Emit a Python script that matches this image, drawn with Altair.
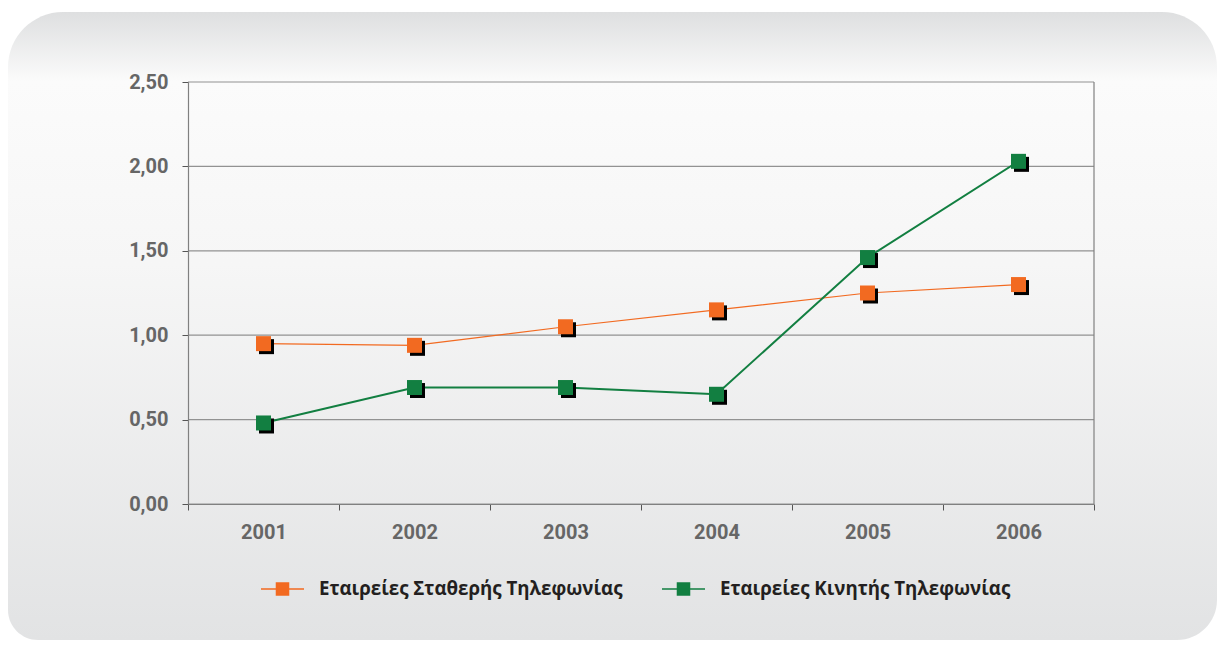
import altair as alt
import pandas as pd

years = ["2001", "2002", "2003", "2004", "2005", "2006"]
fixed_values = [0.95, 0.94, 1.05, 1.15, 1.25, 1.30]
mobile_values = [0.48, 0.69, 0.69, 0.65, 1.46, 2.03]
series_names = ["Εταιρείες Σταθερής Τηλεφωνίας", "Εταιρείες Κινητής Τηλεφωνίας"]
series_colors = ["#f26a21", "#127f41"]
y_ticks = [0, 0.5, 1.0, 1.5, 2.0, 2.5]

rows = []
for name, vals in zip(series_names, [fixed_values, mobile_values]):
    for yr, v in zip(years, vals):
        rows.append({"year": yr, "value": v, "series": name})
df = pd.DataFrame(rows)

W, H = 906, 422
PAD_L, PAD_T, PAD_R, PAD_B = 180, 74, 1217 - 188 - W, 632 - 74 - H

x_enc = alt.X(
    "year:N",
    bandPosition=0.5,
    scale=alt.Scale(type="band", paddingInner=0, paddingOuter=0),
    axis=alt.Axis(
        title=None, labelAngle=0, tickBand="extent", grid=False,
        labelFont="Roboto", labelFontSize=20, labelFontWeight="bold",
        labelColor="#666666", labelPadding=12, tickSize=6,
        tickColor="#555555", domainColor="#808080", domainWidth=1.2,
        zindex=1,
    ),
)
y_axis = alt.Axis(
    title=None, values=y_ticks,
    labelExpr="replace(format(datum.value, '.2f'), '.', ',')",
    labelFont="Roboto", labelFontSize=20, labelFontWeight="bold",
    labelColor="#666666", labelPadding=14, tickSize=6,
    tickColor="#555555", domainColor="#808080", domainWidth=1.2,
    grid=False, zindex=1,
)
y_scale = alt.Scale(domain=[0, 2.5], nice=False)
y_enc = alt.Y("value:Q", scale=y_scale, axis=y_axis)

color_enc = alt.Color(
    "series:N",
    scale=alt.Scale(domain=series_names, range=series_colors),
    legend=alt.Legend(
        title=None, orient="none", direction="horizontal",
        legendX=72, legendY=484, padding=0, zindex=1,
        symbolType="M-1,0L1,0M-0.28,-0.28L0.28,-0.28L0.28,0.28L-0.28,0.28Z",
        symbolSize=1849, symbolStrokeWidth=1.5, symbolOpacity=1,
        labelFont="Open Sans", labelFontSize=18.7, labelFontWeight="bold",
        labelColor="#231f20", labelOffset=14, columnPadding=36,
        labelLimit=500,
    ),
)

bg = alt.Chart(pd.DataFrame({"k": [0]})).mark_rect(
    fill=alt.Gradient(
        gradient="linear", x1=0, y1=0, x2=0, y2=1,
        stops=[
            alt.GradientStop(color="#dedfe0", offset=0),
            alt.GradientStop(color="#fbfbfb", offset=0.11),
            alt.GradientStop(color="#f6f6f6", offset=0.4),
            alt.GradientStop(color="#e2e3e4", offset=1),
        ],
    ),
    cornerRadiusTopLeft=55, cornerRadiusTopRight=55,
    cornerRadiusBottomLeft=30, cornerRadiusBottomRight=40,
).encode(
    x=alt.value(-180), x2=alt.value(1217 - 188),
    y=alt.value(-70), y2=alt.value(632 - 74),
)

# horizontal gridlines drawn as rules so they sit above the background
grid = alt.Chart(pd.DataFrame({"value": y_ticks})).mark_rule(color="#929292", strokeWidth=1.2).encode(
    y=y_enc,
    x=alt.value(0), x2=alt.value(W),
)
right_border = alt.Chart(pd.DataFrame({"k": [0]})).mark_rule(color="#808080", strokeWidth=1.2).encode(
    x=alt.value(W), y=alt.value(0), y2=alt.value(H),
)

base = alt.Chart(df)

line_fixed = base.transform_filter(alt.datum.series == series_names[0]).mark_line(strokeWidth=1.2).encode(
    x=x_enc, y=y_enc, color=color_enc
)
line_mobile = base.transform_filter(alt.datum.series == series_names[1]).mark_line(strokeWidth=2).encode(
    x=x_enc, y=y_enc, color=color_enc
)
shadow = base.mark_square(size=225, color="black", opacity=1, xOffset=3, yOffset=3).encode(
    x=x_enc, y=y_enc, detail="series:N"
)
squares = base.mark_square(size=225, opacity=1).encode(
    x=x_enc, y=y_enc, color=color_enc
)

chart = alt.layer(bg, grid, right_border, line_fixed, line_mobile, shadow, squares).properties(
    width=W, height=H,
    padding={"left": PAD_L, "top": PAD_T, "right": PAD_R, "bottom": PAD_B},
    autosize=alt.AutoSizeParams(type="none"),
    background="#ffffff",
).configure_view(stroke=None)

chart.save("out.html", embed_options={"renderer": "svg", "actions": False})
